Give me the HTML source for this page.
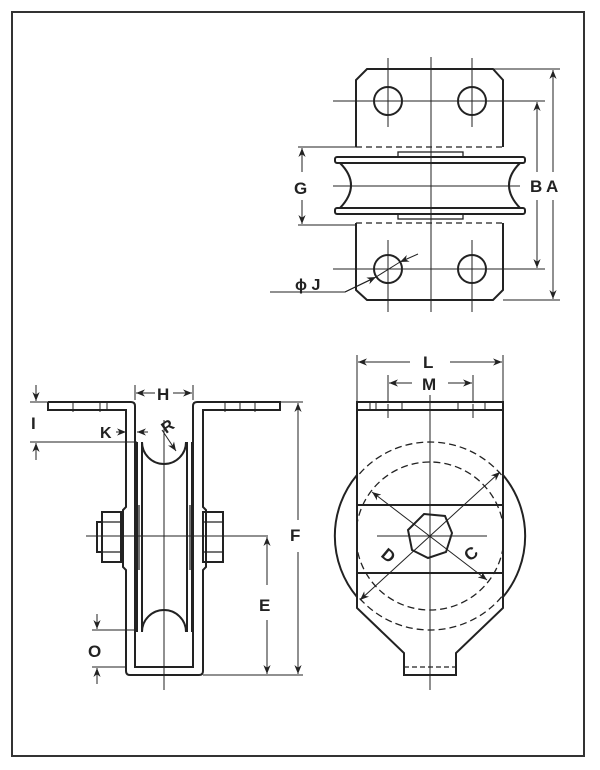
<!DOCTYPE html>
<html><head><style>
html,body{margin:0;padding:0;background:#fff;}
svg{display:block;}
text{font-family:"Liberation Sans",Arial,sans-serif;font-weight:bold;fill:#222;}
</style></head><body>
<svg width="600" height="770" viewBox="0 0 600 770" xmlns="http://www.w3.org/2000/svg">
<defs>
<marker id="a" viewBox="0 0 10 10" refX="10" refY="5" markerWidth="9" markerHeight="9" orient="auto-start-reverse" markerUnits="userSpaceOnUse"><path d="M0,1 L10,5 L0,9 L3,5 z" fill="#222"/></marker>
<clipPath id="body"><rect x="357" y="410" width="146" height="270"/></clipPath>
</defs>
<rect x="12" y="12" width="572" height="744" fill="none" stroke="#333" stroke-width="2"/>

<!-- ===== TOP VIEW ===== -->
<g fill="none" stroke="#222">
<path d="M356,147 V80 L367,69 H493 L503,80 V147" stroke-width="2"/>
<path d="M356,223 V290 L367,300 H493 L503,290 V223" stroke-width="2"/>
<path d="M356,147 H503 M356,223 H503" stroke-width="1.3" stroke-dasharray="6,4"/>
<circle cx="388" cy="101" r="14" stroke-width="2"/>
<circle cx="472" cy="101" r="14" stroke-width="2"/>
<circle cx="388" cy="269" r="14" stroke-width="2"/>
<circle cx="472" cy="269" r="14" stroke-width="2"/>
<rect x="335" y="157" width="190" height="6" rx="2" stroke-width="2"/>
<rect x="335" y="208" width="190" height="6" rx="2" stroke-width="2"/>
<path d="M340,163 Q362,185 340,208 M520,163 Q498,185 520,208" stroke-width="2"/>
<rect x="398" y="152" width="65" height="5" stroke-width="1.3"/>
<rect x="398" y="214" width="65" height="5" stroke-width="1.3"/>
<g stroke-width="1">
<path d="M431,57 V312 M388,58 V127 M472,58 V127 M388,240 V312 M472,240 V312"/>
<path d="M333,101 H520 M333,269 H520 M333,186 H520"/>
<path d="M298,147 H356 M298,225 H356"/>
<line x1="302" y1="172" x2="302" y2="148" marker-end="url(#a)"/>
<line x1="302" y1="200" x2="302" y2="224" marker-end="url(#a)"/>
<path d="M493,69 H560 M503,300 H560 M520,101 H545 M520,269 H545"/>
<line x1="537" y1="172" x2="537" y2="102" marker-end="url(#a)"/>
<line x1="537" y1="200" x2="537" y2="268" marker-end="url(#a)"/>
<line x1="553" y1="172" x2="553" y2="70" marker-end="url(#a)"/>
<line x1="553" y1="200" x2="553" y2="299" marker-end="url(#a)"/>
<path d="M270,292 H345 L372,279"/>
<line x1="345" y1="292" x2="376" y2="277" marker-end="url(#a)"/>
<line x1="418" y1="254" x2="400" y2="262" marker-end="url(#a)"/>
<line x1="376" y1="277" x2="400" y2="262"/>
</g>
</g>
<text x="294" y="194" font-size="17">G</text>
<text x="530" y="192" font-size="17">B</text>
<text x="546" y="192" font-size="17">A</text>
<text x="295" y="290" font-size="16">ϕ J</text>

<!-- ===== SIDE VIEW ===== -->
<g fill="none" stroke="#222">
<path d="M48,402 H131 Q135,402 135,406 V442 M48,402 V410 H126 V507 L123,510 V567 L126,570 V671 Q126,675 130,675 H199 Q203,675 203,671 V570 L206,567 V510 L203,507 V410 H280 V402 H197 Q193,402 193,406 V667 H135 V442" stroke-width="2"/>
<path d="M137,442 V632 M142,442 V632 M187,442 V632 M192,442 V632" stroke-width="2"/>
<path d="M142,442 A22,22 0 0 0 186,442 M142,632 A22,22 0 0 1 186,632" stroke-width="2"/>
<rect x="102" y="512" width="19" height="50" stroke-width="2"/>
<rect x="97" y="522" width="5" height="30" stroke-width="2"/>
<rect x="203" y="512" width="20" height="50" stroke-width="2"/>
<path d="M203,522 H223 M203,552 H223 M102,522 H121 M102,552 H121" stroke-width="1.3"/>
<path d="M139,505 V570 M190,505 V570" stroke-width="1.3"/>
<g stroke-width="1">
<path d="M164,420 V690 M86,536 H268"/>
<path d="M73,402 V412 M73,410 H82 M100,402 V412 M107,402 V410 M225,402 V412 M240,402 V410 M255,402 V412"/>
<path d="M135,385 V400 M193,385 V400"/>
<line x1="155" y1="393" x2="136" y2="393" marker-end="url(#a)"/>
<line x1="173" y1="393" x2="192" y2="393" marker-end="url(#a)"/>
<path d="M30,402 H48 M30,442 H137"/>
<line x1="36" y1="385" x2="36" y2="401" marker-end="url(#a)"/>
<line x1="36" y1="460" x2="36" y2="443" marker-end="url(#a)"/>
<line x1="116" y1="432" x2="126" y2="432" marker-end="url(#a)"/>
<line x1="148" y1="432" x2="137" y2="432" marker-end="url(#a)"/>
<line x1="162" y1="430" x2="176" y2="451" marker-end="url(#a)"/>
<path d="M280,402 H303 M203,675 H303"/>
<line x1="298" y1="520" x2="298" y2="403" marker-end="url(#a)"/>
<line x1="298" y1="552" x2="298" y2="674" marker-end="url(#a)"/>
<line x1="267" y1="585" x2="267" y2="537" marker-end="url(#a)"/>
<line x1="267" y1="620" x2="267" y2="674" marker-end="url(#a)"/>
<path d="M92,630 H137 M92,667 H126"/>
<line x1="97" y1="614" x2="97" y2="629" marker-end="url(#a)"/>
<line x1="97" y1="684" x2="97" y2="668" marker-end="url(#a)"/>
</g>
</g>
<text x="157" y="400" font-size="17">H</text>
<text x="31" y="429" font-size="17">I</text>
<text x="100" y="438" font-size="16">K</text>
<text x="0" y="0" font-size="16" transform="translate(166,434) rotate(-35)">R</text>
<text x="290" y="541" font-size="17">F</text>
<text x="259" y="611" font-size="17">E</text>
<text x="88" y="657" font-size="17">O</text>

<!-- ===== FRONT VIEW ===== -->
<g fill="none" stroke="#222">
<rect x="357" y="402" width="146" height="8" stroke-width="2"/>
<path d="M357,410 V608 L404,653 V675 H456 V653 L503,608 V410" stroke-width="2"/>
<path d="M404,667 H456" stroke-width="1.3" stroke-dasharray="5,3"/>
<path d="M357,505 H503 M357,573 H503" stroke-width="2"/>
<path d="M357,475 A95,95 0 0 0 357,597 M503,475 A95,95 0 0 1 503,597" stroke-width="2"/>
<g clip-path="url(#body)">
<circle cx="430" cy="536" r="94" stroke-width="1.3" stroke-dasharray="7,4"/>
<circle cx="430" cy="536" r="74" stroke-width="1.3" stroke-dasharray="7,4"/>
</g>
<polygon points="424,514 445,516 452,533 446,552 428,558 412,550 408,530" stroke-width="2"/>
<g stroke-width="1">
<path d="M430,395 V690 M377,536 H487"/>
<path d="M370,402 V410 M376,402 V410 M388,404 V418 M402,402 V410 M458,402 V410 M473,404 V418 M485,402 V410"/>
<path d="M357,355 V402 M503,355 V402 M388,375 V402 M473,375 V402"/>
<line x1="410" y1="362" x2="358" y2="362" marker-end="url(#a)"/>
<line x1="450" y1="362" x2="502" y2="362" marker-end="url(#a)"/>
<line x1="412" y1="383" x2="389" y2="383" marker-end="url(#a)"/>
<line x1="448" y1="383" x2="472" y2="383" marker-end="url(#a)"/>
<line x1="360" y1="600" x2="500" y2="472" marker-end="url(#a)" marker-start="url(#a)"/>
<line x1="372" y1="492" x2="487" y2="580" marker-end="url(#a)" marker-start="url(#a)"/>
</g>
</g>
<text x="423" y="368" font-size="17">L</text>
<text x="422" y="390" font-size="17">M</text>
<text x="0" y="0" font-size="17" transform="translate(380,556) rotate(40)">D</text>
<text x="0" y="0" font-size="17" transform="translate(470,562) rotate(-40)">C</text>
</svg>
</body></html>
